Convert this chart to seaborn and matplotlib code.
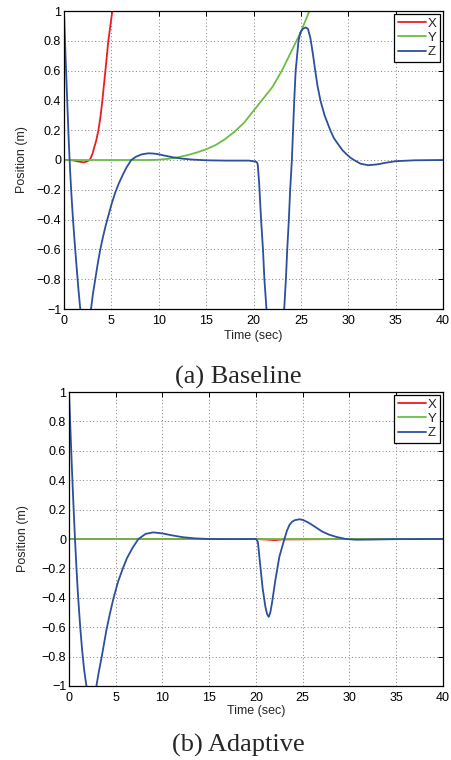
import numpy as np
import pandas as pd
import matplotlib
matplotlib.use("Agg")
import matplotlib.pyplot as plt
import seaborn as sns

# ---- data (time in s, position in m) ----
# (a) Baseline
base_x_t = [0, 0.5, 1.0, 1.5, 2.1, 2.5, 2.75, 3.0, 3.17, 3.4, 3.63, 3.85, 4.05, 4.37, 4.68, 5.1, 5.5]
base_x_v = [0, 0, -0.003, -0.01, -0.016, -0.008, 0.005, 0.04, 0.08, 0.13, 0.2, 0.29, 0.4, 0.6, 0.8, 1.0, 1.25]

base_y_t = [0, 5, 9, 10, 11, 12, 13, 14, 15, 16, 17, 18, 19, 20, 21, 22, 23, 24, 25, 25.9, 26.5]
base_y_v = [0, 0, 0, 0.002, 0.008, 0.018, 0.032, 0.05, 0.072, 0.1, 0.14, 0.19, 0.25, 0.33, 0.41,
            0.49, 0.6, 0.73, 0.86, 1.0, 1.1]

base_z_t = [0, 0.1, 0.2, 0.35, 0.5, 0.65, 0.8, 0.95, 1.1, 1.27, 1.5, 1.7, 1.95, 2.25, 2.55,
            2.85, 3.05, 3.3, 3.55, 3.8, 4.1, 4.4, 4.7, 5.0, 5.4, 5.8, 6.2, 6.6, 7.1, 7.6, 8.2,
            8.9, 9.5, 10.0, 10.5, 11.5, 12.5, 13.5, 15.0, 17.0, 19.5, 20.2, 20.35, 20.45, 20.6,
            20.8, 21.0, 21.15, 21.37, 21.8, 22.3, 22.8, 23.24, 23.42, 23.56, 23.73, 23.87,
            24.05, 24.3, 24.45, 24.75, 24.95, 25.2, 25.5, 25.75, 26.0, 26.25, 26.47, 26.75,
            27.06, 27.5, 28.1, 28.5, 29.0, 29.4, 29.8, 30.2, 30.6, 31.3, 32.1, 33.0, 34.0,
            35.0, 37.0, 40.0]
base_z_v = [1.0, 0.81, 0.63, 0.38, 0.13, -0.08, -0.25, -0.4, -0.53, -0.67, -0.85, -0.99, -1.1,
            -1.16, -1.11, -1.0, -0.9, -0.8, -0.7, -0.61, -0.52, -0.44, -0.37, -0.3, -0.22,
            -0.155, -0.1, -0.05, 0.0, 0.022, 0.038, 0.045, 0.043, 0.038, 0.031, 0.018, 0.009,
            0.003, -0.002, -0.004, -0.004, -0.01, -0.015, -0.03, -0.16, -0.4, -0.6, -0.8, -1.0,
            -1.6, -2.0, -1.6, -1.0, -0.8, -0.6, -0.4, -0.2, 0.0, 0.4, 0.6, 0.8, 0.855, 0.88,
            0.89, 0.88, 0.82, 0.72, 0.62, 0.5, 0.4, 0.3, 0.2, 0.145, 0.1, 0.065, 0.04, 0.017,
            0.0, -0.025, -0.035, -0.03, -0.018, -0.008, -0.002, 0.0]

# (b) Adaptive
adap_x_t = [0, 10, 20, 21.2, 22.0, 22.8, 30, 40]
adap_x_v = [0, 0, 0, -0.004, -0.008, -0.003, 0, 0]

adap_y_t = [0, 40]
adap_y_v = [0, 0]

adap_z_t = [0, 0.15, 0.3, 0.45, 0.64, 0.8, 0.95, 1.2, 1.41, 1.62, 1.84, 2.1, 2.38, 2.65, 2.93,
            3.2, 3.53, 4.0, 4.4, 4.77, 5.25, 5.76, 6.2, 6.8, 7.42, 8.2, 9.0, 10.0, 11.0, 12.2,
            13.5, 15.0, 17.5, 20.0, 20.2, 20.36, 20.7, 21.0, 21.18, 21.36, 21.53, 21.7, 22.07,
            22.5, 23.04, 23.3, 23.57, 23.85, 24.15, 24.64, 25.0, 25.5, 25.9, 26.5, 27.1, 27.8,
            28.6, 29.6, 30.7, 32.0, 35.0, 40.0]
adap_z_v = [1.0, 0.75, 0.5, 0.27, 0.0, -0.2, -0.37, -0.6, -0.76, -0.89, -0.99, -1.06, -1.09,
            -1.07, -1.0, -0.9, -0.79, -0.62, -0.5, -0.4, -0.29, -0.2, -0.13, -0.06, 0.0, 0.035,
            0.045, 0.038, 0.025, 0.012, 0.004, 0.0, -0.001, 0.0, -0.02, -0.12, -0.33, -0.46,
            -0.51, -0.53, -0.5, -0.44, -0.28, -0.12, 0.0, 0.055, 0.095, 0.117, 0.128, 0.134,
            0.13, 0.115, 0.1, 0.075, 0.05, 0.03, 0.014, 0.0, -0.005, -0.004, -0.001, 0.0]

series_names = ["X", "Y", "Z"]
x_ticks = [0, 5, 10, 15, 20, 25, 30, 35, 40]
y_ticks = [-1, -0.8, -0.6, -0.4, -0.2, 0, 0.2, 0.4, 0.6, 0.8, 1]
y_tick_labels = ["\u22121", "\u22120.8", "\u22120.6", "\u22120.4", "\u22120.2", "0",
                 "0.2", "0.4", "0.6", "0.8", "1"]
captions = ["(a) Baseline", "(b) Adaptive"]

palette = {"X": "#ec1c24", "Y": "#6cbd45", "Z": "#2c4f9e"}


def to_long(parts):
    frames = []
    for name, t, v in parts:
        frames.append(pd.DataFrame({"time": t, "pos": v, "axis": name}))
    return pd.concat(frames, ignore_index=True)


df_base = to_long([("X", base_x_t, base_x_v), ("Y", base_y_t, base_y_v), ("Z", base_z_t, base_z_v)])
df_adap = to_long([("X", adap_x_t, adap_x_v), ("Y", adap_y_t, adap_y_v), ("Z", adap_z_t, adap_z_v)])

sns.set_style("white")
plt.rcParams["font.family"] = ["Liberation Sans", "DejaVu Sans"]

fig = plt.figure(figsize=(4.52, 7.6), dpi=100)
ax_top = fig.add_axes([64 / 452, (760 - 309) / 760, 379 / 452, 298 / 760])
ax_bot = fig.add_axes([69 / 452, (760 - 686) / 760, 374 / 452, 294 / 760])

for ax, df, ylab_x, xlab_y in [(ax_top, df_base, -0.095, -0.07), (ax_bot, df_adap, -0.107, -0.065)]:
    sns.lineplot(data=df, x="time", y="pos", hue="axis", hue_order=series_names,
                 palette=palette, estimator=None, linewidth=1.3, ax=ax, legend=False)
    ax.set_xlim(0, 40)
    ax.set_ylim(-1, 1)
    ax.set_xticks(x_ticks)
    ax.set_xticklabels([str(v) for v in x_ticks])
    ax.set_yticks(y_ticks)
    ax.set_yticklabels(y_tick_labels)
    ax.tick_params(direction="in", length=3.5, width=0.7, top=True, right=True,
                   labelsize=9, colors="black")
    ax.tick_params(axis="x", pad=4)
    ax.tick_params(axis="y", pad=2)
    ax.grid(True, linestyle=(0, (1, 2.5)), color="0.5", linewidth=0.7)
    for sp in ax.spines.values():
        sp.set_visible(True)
        sp.set_color("black")
        sp.set_linewidth(0.9)
    ax.set_xlabel("Time (sec)", fontsize=9)
    ax.set_ylabel("Position (m)", fontsize=9)
    ax.xaxis.set_label_coords(0.5, xlab_y)
    ax.yaxis.set_label_coords(ylab_x, 0.5)

    handles = [plt.Line2D([], [], color=palette[n], linewidth=1.3) for n in series_names]
    leg = ax.legend(handles, series_names, loc="upper right", fontsize=9.5, frameon=True,
                    fancybox=False, framealpha=1, edgecolor="black", handlelength=2.1,
                    handletextpad=0.15, labelspacing=0.15, borderpad=0.3, borderaxespad=0.2)
    leg.get_frame().set_linewidth(0.9)

fig.text(238 / 452, (760 - 384) / 760, captions[0], ha="center", va="baseline",
         fontsize=19, family=["Liberation Serif", "DejaVu Serif"])
fig.text(238 / 452, (760 - 752) / 760, captions[1], ha="center", va="baseline",
         fontsize=19, family=["Liberation Serif", "DejaVu Serif"])

fig.savefig("out.png", dpi=100)
